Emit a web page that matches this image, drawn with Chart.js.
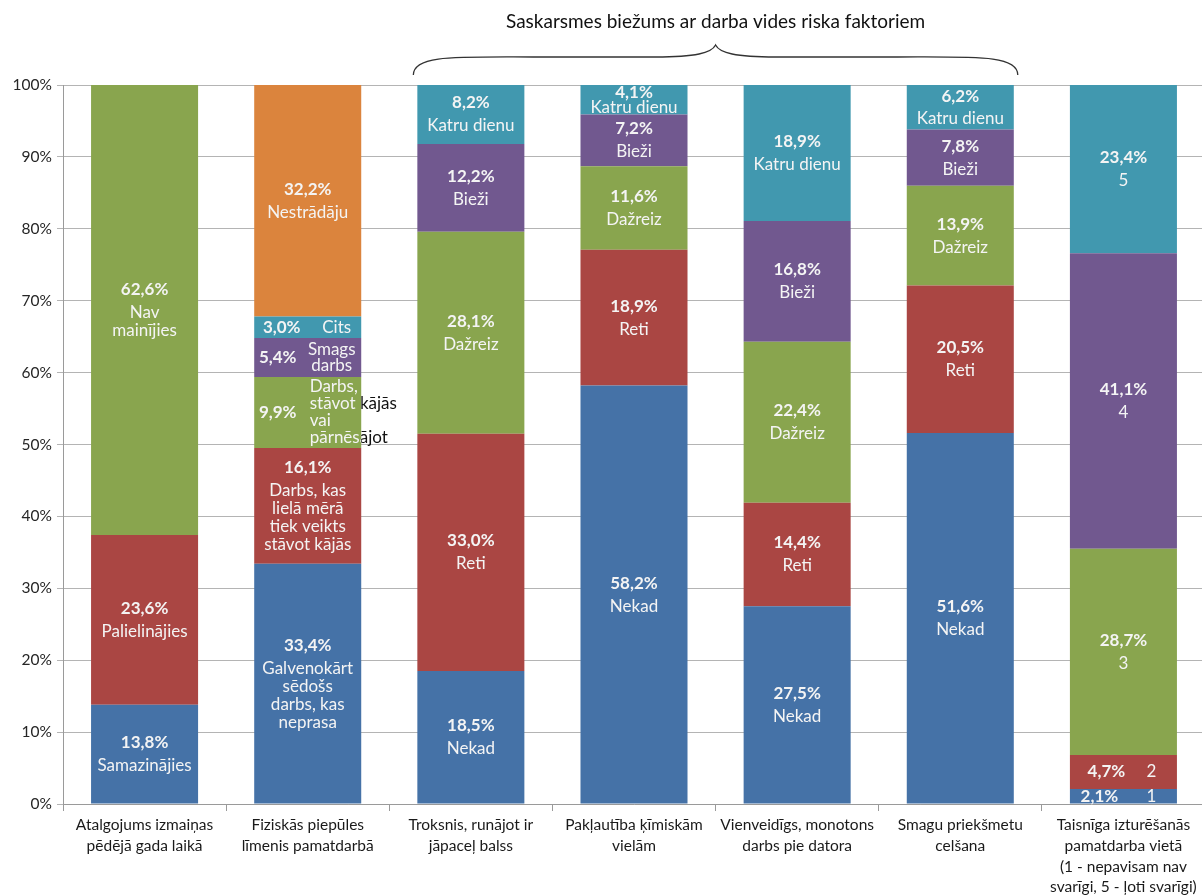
<!DOCTYPE html>
<html>
<head>
<meta charset="utf-8">
<script src="https://cdn.jsdelivr.net/npm/chart.js@4/dist/chart.umd.min.js"></script>
<style>
  html, body { margin: 0; padding: 0; background: #fff; overflow: hidden; }
  #wrap { width: 1205px; height: 896px; }
</style>
</head>
<body>
<div id="wrap"><canvas id="chart" width="1205" height="896"></canvas></div>
<script>
const categories = [
    ['Atalgojums izmaiņas', 'pēdējā gada laikā'],
    ['Fiziskās piepūles', 'līmenis pamatdarbā'],
    ['Troksnis, runājot ir', 'jāpaceļ balss'],
    ['Pakļautība ķīmiskām', 'vielām'],
    ['Vienveidīgs, monotons', 'darbs pie datora'],
    ['Smagu priekšmetu', 'celšana'],
    ['Taisnīga izturēšanās', 'pamatdarba vietā', '(1 - nepavisam nav', 'svarīgi, 5 - ļoti svarīgi)']
];
const groupTitle = 'Saskarsmes biežums ar darba vides riska faktoriem';

// segment values, bottom to top
const blueVals = [13.8, 33.4, 18.5, 58.2, 27.5, 51.6, 2.1];
const redVals = [23.6, 16.1, 33.0, 18.9, 14.4, 20.5, 4.7];
const greenVals = [62.6, 9.9, 28.1, 11.6, 22.4, 13.9, 28.7];
const purpleVals = [null, 5.4, 12.2, 7.2, 16.8, 7.8, 41.1];
const tealVals = [null, 3.0, 8.2, 4.1, 18.9, 6.2, 23.4];
const orangeVals = [null, 32.2, null, null, null, null, null];

// segment names
const blueNames = [['Samazinājies'], ['Galvenokārt', 'sēdošs', 'darbs, kas', 'neprasa'], ['Nekad'], ['Nekad'], ['Nekad'], ['Nekad'], ['1']];
const redNames = [['Palielinājies'], ['Darbs, kas', 'lielā mērā', 'tiek veikts', 'stāvot kājās'], ['Reti'], ['Reti'], ['Reti'], ['Reti'], ['2']];
const greenNames = [['Nav', 'mainījies'], ['Darbs,', 'stāvot kājās', 'vai', 'pārnēsājot'], ['Dažreiz'], ['Dažreiz'], ['Dažreiz'], ['Dažreiz'], ['3']];
const purpleNames = [null, ['Smags', 'darbs'], ['Bieži'], ['Bieži'], ['Bieži'], ['Bieži'], ['4']];
const tealNames = [null, ['Cits'], ['Katru dienu'], ['Katru dienu'], ['Katru dienu'], ['Katru dienu'], ['5']];
const orangeNames = [null, ['Nestrādāju'], null, null, null, null, null];

const yTicks = [0, 10, 20, 30, 40, 50, 60, 70, 80, 90, 100];

const colors = ['#4572A7', '#AA4643', '#89A54E', '#71588F', '#4198AF', '#DB843D'];
const FONT = 'Lato, "Open Sans", sans-serif';
const LBL = 17;

const allNames = [blueNames, redNames, greenNames, purpleNames, tealNames, orangeNames];

// special label placements: "dataset-index"
const labelLayout = {
    '4-1': { mode: 'side', pctDx: -26, nameDx: 29 },
    '3-1': { mode: 'side', pctDx: -30, nameDx: 24, lh: 16 },
    '2-1': { mode: 'clip', pctDx: -30, textDx: 2, lh: 17 },
    '0-6': { mode: 'side', pctDx: -24, nameDx: 28 },
    '1-6': { mode: 'side', pctDx: -17, nameDx: 28 }
};

function fmt(v) {
    return v.toFixed(1).replace('.', ',') + '%';
}

const segmentLabels = {
    id: 'segmentLabels',
    afterDatasetsDraw(chart) {
        const ctx = chart.ctx;
        ctx.save();
        ctx.textBaseline = 'middle';
        chart.data.datasets.forEach((ds, di) => {
            const meta = chart.getDatasetMeta(di);
            meta.data.forEach((bar, i) => {
                const v = ds.data[i];
                if (v == null) return;
                const names = allNames[di][i] || [];
                const top = Math.min(bar.y, bar.base);
                const h = Math.abs(bar.base - bar.y);
                const mid = top + h / 2;
                const left = bar.x - bar.width / 2;
                const right = bar.x + bar.width / 2;
                const lay = labelLayout[di + '-' + i];
                ctx.fillStyle = '#f4f4f4';

                if (lay && lay.mode === 'side') {
                    ctx.textAlign = 'center';
                    ctx.font = 'bold ' + LBL + 'px ' + FONT;
                    ctx.fillText(fmt(v), bar.x + lay.pctDx, mid);
                    ctx.font = LBL + 'px ' + FONT;
                    const lh = lay.lh || 17;
                    const y0 = mid - (names.length - 1) * lh / 2;
                    names.forEach((t, k) => ctx.fillText(t, bar.x + lay.nameDx, y0 + k * lh));
                    return;
                }
                if (lay && lay.mode === 'clip') {
                    ctx.textAlign = 'center';
                    ctx.font = 'bold ' + LBL + 'px ' + FONT;
                    ctx.fillText(fmt(v), bar.x + lay.pctDx, mid);
                    ctx.font = LBL + 'px ' + FONT;
                    ctx.textAlign = 'left';
                    const lh = lay.lh;
                    const y0 = mid - (names.length - 1) * lh / 2;
                    // white part inside the bar
                    ctx.save();
                    ctx.beginPath();
                    ctx.rect(left, top, bar.width, h);
                    ctx.clip();
                    names.forEach((t, k) => ctx.fillText(t, bar.x + lay.textDx, y0 + k * lh));
                    ctx.restore();
                    // black part running past the bar edge
                    ctx.save();
                    ctx.beginPath();
                    ctx.rect(right, top - 20, 200, h + 40);
                    ctx.clip();
                    ctx.fillStyle = '#111';
                    names.forEach((t, k) => ctx.fillText(t, bar.x + lay.textDx, y0 + k * lh));
                    ctx.restore();
                    return;
                }

                ctx.textAlign = 'center';
                const gap = Math.min(23, h * 0.5);
                const lh = 18;
                const block = names.length ? gap + (names.length - 1) * lh : 0;
                const pctY = mid - block / 2;
                ctx.font = 'bold ' + LBL + 'px ' + FONT;
                ctx.fillText(fmt(v), bar.x, pctY);
                ctx.font = LBL + 'px ' + FONT;
                names.forEach((t, k) => ctx.fillText(t, bar.x, pctY + gap + k * lh));
            });
        });
        ctx.restore();
    }
};

// brace over the risk-factor columns and its caption
const groupBrace = {
    id: 'groupBrace',
    afterDraw(chart) {
        const meta = chart.getDatasetMeta(0);
        const a = meta.data[2], b = meta.data[5];
        const x1 = a.x - a.width / 2 - 4;
        const x2 = b.x + b.width / 2 + 4;
        const xm = (x1 + x2) / 2;
        const yEnd = chart.chartArea.top - 10;
        const yMid = yEnd - 18;
        const yTip = yEnd - 30;
        const ctx = chart.ctx;
        ctx.save();
        ctx.strokeStyle = '#333';
        ctx.lineWidth = 1.3;
        ctx.beginPath();
        ctx.moveTo(x1, yEnd);
        ctx.bezierCurveTo(x1, yMid - 2, x1 + 40, yMid, x1 + 120, yMid);
        ctx.lineTo(xm - 60, yMid);
        ctx.bezierCurveTo(xm - 20, yMid, xm - 4, yMid - 4, xm, yTip);
        ctx.bezierCurveTo(xm + 4, yMid - 4, xm + 20, yMid, xm + 60, yMid);
        ctx.lineTo(x2 - 120, yMid);
        ctx.bezierCurveTo(x2 - 40, yMid, x2, yMid - 2, x2, yEnd);
        ctx.stroke();
        ctx.fillStyle = '#111';
        ctx.font = '19px ' + FONT;
        ctx.textAlign = 'center';
        ctx.textBaseline = 'middle';
        ctx.fillText(groupTitle, xm, 22);
        ctx.restore();
    }
};

const datasets = [blueVals, redVals, greenVals, purpleVals, tealVals, orangeVals].map((d, i) => ({
    data: d,
    backgroundColor: colors[i],
    borderWidth: 0,
    barPercentage: 0.656,
    categoryPercentage: 1.0
}));

new Chart(document.getElementById('chart').getContext('2d'), {
    type: 'bar',
    data: { labels: categories, datasets: datasets },
    options: {
        responsive: false,
        animation: false,
        devicePixelRatio: 1,
        layout: { padding: { top: 85, left: 0, right: 0, bottom: 0 } },
        plugins: { legend: { display: false }, tooltip: { enabled: false } },
        scales: {
            x: {
                stacked: true,
                grid: { display: true, drawOnChartArea: false, color: '#9a9a9a', tickLength: 7 },
                border: { color: '#9a9a9a' },
                ticks: { color: '#1a1a1a', font: { family: FONT, size: 15.5, lineHeight: 1.33 }, padding: 4, maxRotation: 0, autoSkip: false },
                afterFit(scale) { scale.height = 92; }
            },
            y: {
                stacked: true,
                min: 0,
                max: 100,
                afterBuildTicks(scale) { scale.ticks = yTicks.map(v => ({ value: v })); },
                grid: { color: '#b4b4b4', tickLength: 6 },
                border: { color: '#9a9a9a' },
                ticks: { color: '#262626', font: { family: FONT, size: 15.5 }, padding: 5, callback: v => v + '%' },
                afterFit(scale) { scale.width = 63; }
            }
        }
    },
    plugins: [segmentLabels, groupBrace]
});
</script>
</body>
</html>
